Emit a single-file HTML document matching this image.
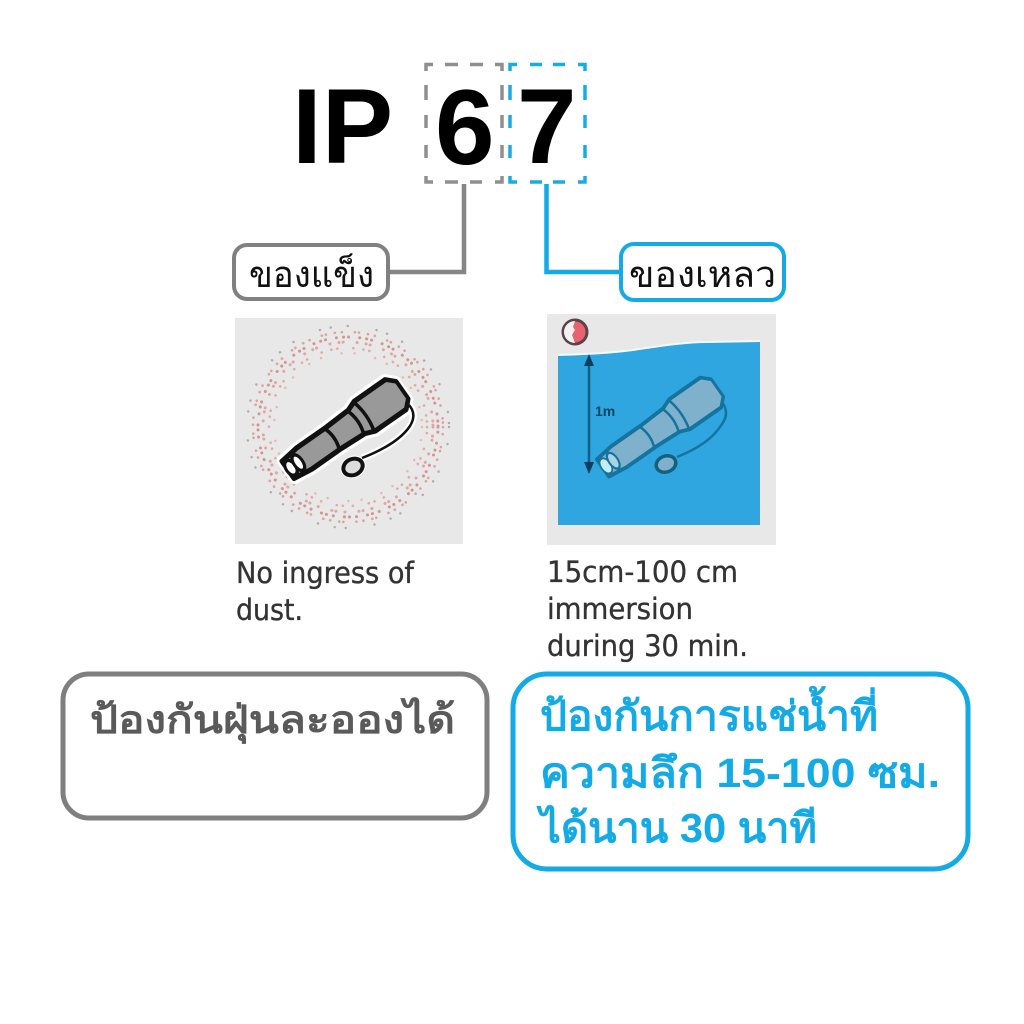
<!DOCTYPE html>
<html><head><meta charset="utf-8"><style>
html,body{margin:0;padding:0;background:#fff;width:1024px;height:1024px;overflow:hidden}
svg{display:block}
text{font-family:"Liberation Sans",sans-serif}
text.en{font-family:"DejaVu Sans",sans-serif;stroke:#333;stroke-width:.35}
</style></head><body>
<svg width="1024" height="1024" viewBox="0 0 1024 1024" xmlns="http://www.w3.org/2000/svg">
<rect width="1024" height="1024" fill="#fff"/>
<text x="292" y="163" font-size="107" font-weight="700" fill="#000">IP</text>
<text x="435" y="164" font-size="107" font-weight="700" fill="#000">6</text>
<text x="517" y="163" font-size="107" font-weight="700" fill="#000">7</text>

<path d="M426 71V64.500H433M445 64.500H458M470 64.500H483M495 64.500H502V71M426 85V100M426 115V128M426 145V158M502 85V100M502 115V128M502 145V158M426 176V182H433M445 182H458M470 182H482M495 182H502V176" fill="none" stroke="#8f8f8f" stroke-width="3.500"/>
<path d="M510 71V64.500H517M530 64.500H542M553 64.500H565M578 64.500H585V71M510 85V100M510 115V128M510 145V158M585 85V100M585 115V128M585 145V158M510 176V182H517M530 182H542M553 182H565M578 182H585V176" fill="none" stroke="#18ace6" stroke-width="3.500"/>

<path d="M464 184V272H388" fill="none" stroke="#858585" stroke-width="4.500"/>
<path d="M546.500 184V272H622" fill="none" stroke="#13aae6" stroke-width="4.500"/>
<rect x="234" y="245" width="154" height="54" rx="13" fill="#fff" stroke="#808080" stroke-width="4"/>
<rect x="621" y="244" width="163" height="56" rx="13" fill="#fff" stroke="#13aae6" stroke-width="4"/>
<text x="249" y="287" font-size="37" textLength="125" lengthAdjust="spacingAndGlyphs" fill="#111">ของแข็ง</text>
<text x="629" y="287" font-size="37" textLength="147" lengthAdjust="spacingAndGlyphs" fill="#111">ของเหลว</text>

<rect x="235" y="318" width="228" height="226" fill="#e8e8e8"/>
<g fill="none" stroke-linecap="round">
<circle cx="348" cy="427" r="101" stroke="#b9a6ac" stroke-width="2.400" stroke-dasharray="0.100 17 0.100 29 0.100 11"/>
<circle cx="348" cy="427" r="95" stroke="#dba39d" stroke-width="2.600" stroke-dasharray="0.100 7 0.100 13 0.100 4 0.100 9"/>
<circle cx="348" cy="427" r="90" stroke="#d29690" stroke-width="3" stroke-dasharray="0.100 5 0.100 11 0.100 7"/>
<circle cx="348" cy="427" r="85" stroke="#dea8a2" stroke-width="3" stroke-dasharray="0.100 9 0.100 4 0.100 14"/>
<circle cx="348" cy="427" r="79" stroke="#e2aaa5" stroke-width="2.600" stroke-dasharray="0.100 6 0.100 16 0.100 10"/>
<circle cx="348" cy="427" r="74" stroke="#e6b6b2" stroke-width="2.400" stroke-dasharray="0.100 13 0.100 21"/>
</g>
<path d="M407 403Q418 413 410 426Q398 444 362 458" fill="none" stroke="#fff" stroke-width="7"/>
<ellipse cx="353" cy="467" rx="13" ry="11" transform="rotate(-25 353 467)" fill="#fff"/>
<g transform="translate(345,430) rotate(-35) scale(1,1.3)">
<path d="M-70 -8L-50 -10H-14L14 -11L24 -14H62L70 -8V8L62 14H24L14 11L-14 10H-50L-70 8Z" fill="#999" stroke="#fff" stroke-width="9" stroke-linejoin="round"/>
<path d="M-70 -8L-50 -10H-14L14 -11L24 -14H62L70 -8V8L62 14H24L14 11L-14 10H-50L-70 8Z" fill="#999" stroke="#111" stroke-width="4" stroke-linejoin="round"/>
<path d="M-16 -10Q-11 0 -16 10M13 -11Q18 0 13 11M23 -14Q28 0 23 14" fill="none" stroke="#111" stroke-width="3.500"/>
<ellipse cx="-66" cy="0" rx="5" ry="6.500" fill="#fff" stroke="#111" stroke-width="3"/>
<ellipse cx="-57" cy="0" rx="4.500" ry="7" fill="#fff" stroke="#111" stroke-width="3"/>
</g>
<path d="M407 403Q418 413 410 426Q398 444 362 458" fill="none" stroke="#111" stroke-width="2.500"/>
<ellipse cx="353" cy="467" rx="10" ry="8" transform="rotate(-25 353 467)" fill="#ddd" stroke="#111" stroke-width="4"/>

<rect x="547" y="314" width="229" height="231" fill="#e8e8e8"/>
<path d="M558 355C590 354 610 353 633 350C660 346 685 342 707 342L760 341V525H558Z" fill="#2fa6df"/>
<path d="M558 355C590 354 610 353 633 350C660 346 685 342 707 342L760 341" fill="none" stroke="#f4fbff" stroke-width="2"/>
<circle cx="575" cy="332" r="12" fill="#e8626f" stroke="#5b4448" stroke-width="3"/>
<path d="M575 321a11 11 0 0 0 0 22l-3-8 3-5-2-3z" fill="#f2f2f2"/>
<path d="M589 362V468" stroke="#0f5f85" stroke-width="2.500"/>
<path d="M589 354l-5 12h10zM589 474l-5-12h10z" fill="#0d3f5c"/>
<text x="595" y="416" font-size="14" font-weight="700" fill="#0d4260">1m</text>
<g transform="translate(660,428) rotate(-35) scale(1,1.3)">
<path d="M-70 -8L-50 -10H-14L14 -11L24 -14H62L70 -8V8L62 14H24L14 11L-14 10H-50L-70 8Z" fill="#7fb1cc" stroke="#15739f" stroke-width="3" stroke-linejoin="round"/>
<path d="M-16 -10Q-11 0 -16 10M13 -11Q18 0 13 11M23 -14Q28 0 23 14" fill="none" stroke="#15739f" stroke-width="2.500"/>
<ellipse cx="-66" cy="0" rx="5" ry="6.500" fill="#c8ecf5" stroke="#15739f" stroke-width="1.500"/>
<ellipse cx="-57" cy="0" rx="4.500" ry="7" fill="#a9d4e2" stroke="#15739f" stroke-width="2"/>
</g>
<path d="M722 402Q730 413 722 424Q710 444 677 457" fill="none" stroke="#15739f" stroke-width="2.500"/>
<ellipse cx="666" cy="464" rx="10" ry="8" transform="rotate(-20 666 464)" fill="#7fb1cc" stroke="#15607f" stroke-width="3.500"/>

<g font-size="29" fill="#333">
<text class="en" x="236" y="583" textLength="178" lengthAdjust="spacingAndGlyphs">No ingress of</text>
<text class="en" x="236" y="620" textLength="67" lengthAdjust="spacingAndGlyphs">dust.</text>
<text class="en" x="547" y="582" textLength="191" lengthAdjust="spacingAndGlyphs">15cm-100 cm</text>
<text class="en" x="547" y="619" textLength="146" lengthAdjust="spacingAndGlyphs">immersion</text>
<text class="en" x="547" y="656" textLength="201" lengthAdjust="spacingAndGlyphs">during 30 min.</text>
</g>

<rect x="63" y="674" width="424" height="144" rx="26" fill="#fff" stroke="#7f7f7f" stroke-width="5"/>
<rect x="513" y="674" width="455" height="195" rx="34" fill="#fff" stroke="#13aae6" stroke-width="5"/>
<text x="90" y="733" font-size="39" font-weight="700" fill="#5a5a5a" textLength="365" lengthAdjust="spacingAndGlyphs">ป้องกันฝุ่นละอองได้</text>
<g font-size="41" font-weight="700" fill="#13aae6">
<text x="540" y="730" textLength="338" lengthAdjust="spacingAndGlyphs">ป้องกันการแช่น้ำที่</text>
<text x="540" y="787" textLength="400" lengthAdjust="spacingAndGlyphs">ความลึก 15-100 ซม.</text>
<text x="540" y="842" textLength="277" lengthAdjust="spacingAndGlyphs">ได้นาน 30 นาที</text>
</g>
</svg>
</body></html>
